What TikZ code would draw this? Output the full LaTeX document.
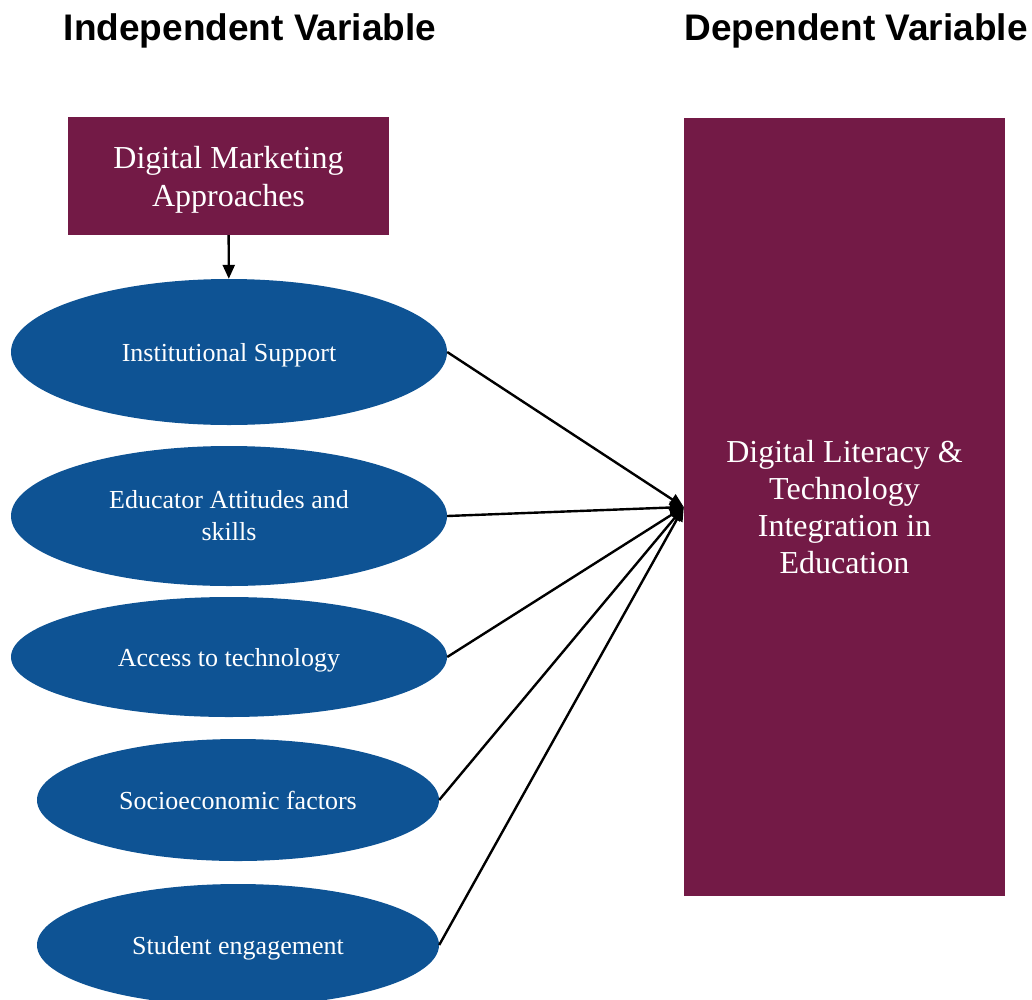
\documentclass[tikz,border=0pt]{standalone}
\usepackage{fontspec}
\setmainfont{Liberation Serif}
\setsansfont{Liberation Sans}
\usetikzlibrary{shapes.geometric,arrows.meta}

\definecolor{plum}{HTML}{731A46}
\definecolor{seablue}{HTML}{0E5394}

\tikzset{
  heading/.style={font=\sffamily\bfseries\fontsize{37}{44}\selectfont},
  varbox/.style={fill=plum, text=white, align=center, inner sep=0pt,
    font=\fontsize{32}{37}\selectfont},
  factor/.style={ellipse, fill=seablue, text=white, align=center, inner sep=0pt,
    minimum width=436pt, font=\fontsize{26}{32}\selectfont},
  oneline/.style={text height=18pt, text depth=0pt},
  link/.style={-{Triangle[length=14pt,width=12pt]}, line width=2.4pt}
}

\begin{document}
\begin{tikzpicture}[x=1pt,y=-1pt]
  \useasboundingbox (0,0) rectangle (1032,999);

  % column headings
  \node[heading] (indep) at (250,31) {Independent Variable};
  \node[heading] (dep) at (856,31) {Dependent Variable};

  % boxes
  \node[varbox, font=\fontsize{32}{38}\selectfont, text depth=0pt,
    minimum width=321pt, minimum height=118pt] (mkt) at (228.5,176)
    {Digital Marketing\\Approaches};
  \node[varbox, minimum width=321pt, minimum height=778pt] (lit) at (844.5,507)
    {Digital Literacy \&\\Technology\\Integration in\\Education};

  % factors
  \node[factor, oneline, minimum height=146pt] (inst) at (229,352) {Institutional Support};
  \node[factor, minimum height=140pt] (edu) at (229,516) {Educator Attitudes and\\skills};
  \node[factor, oneline, minimum height=120pt] (acc) at (229,657) {Access to technology};
  \node[factor, oneline, minimum width=402pt, minimum height=122pt] (socio) at (238,800) {Socioeconomic factors};
  \node[factor, oneline, minimum width=402pt, minimum height=122pt] (stud) at (238,945) {Student engagement};

  \begin{scope}[link]
    \draw (mkt) to (inst);
    \draw (inst.east) to (lit.west);
    \draw (edu.east) to (lit.west);
    \draw (acc.east) to (lit.west);
    \draw (socio.east) to (lit.west);
    \draw (stud.east) to (lit.west);
  \end{scope}
\end{tikzpicture}
\end{document}
